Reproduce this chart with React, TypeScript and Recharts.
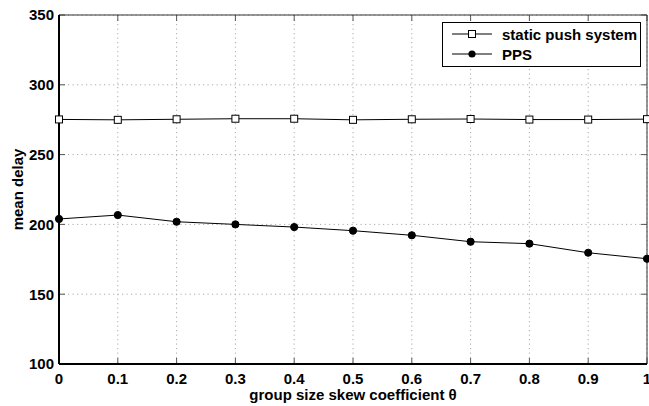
import {
  LineChart,
  Line,
  XAxis,
  YAxis,
  CartesianGrid,
  ReferenceArea,
} from 'recharts';

const theta = [0, 0.1, 0.2, 0.3, 0.4, 0.5, 0.6, 0.7, 0.8, 0.9, 1];
const staticPush = [275.2, 274.9, 275.3, 275.7, 275.7, 274.9, 275.3, 275.5, 275.1, 275.1, 275.4];
const pps = [203.9, 206.7, 201.9, 200.0, 198.1, 195.5, 192.2, 187.6, 186.2, 179.7, 175.4];

const xTicks = [0, 0.1, 0.2, 0.3, 0.4, 0.5, 0.6, 0.7, 0.8, 0.9, 1];
const yTicks = [100, 150, 200, 250, 300, 350];

const data = theta.map((t, i) => ({ theta: t, staticPush: staticPush[i], pps: pps[i] }));

const FONT = 'Liberation Sans, Arial, Helvetica, sans-serif';
const tickStyle = { fontFamily: FONT, fontSize: 15, fontWeight: 700, fill: '#000' };

// dotted grid line with short solid tick marks at both ends (inward ticks)
function GridLine(props: any) {
  const { x1, y1, x2, y2 } = props;
  const vertical = x1 === x2;
  const len = 6;
  return (
    <g key={props.key ?? `${x1}-${y1}`}>
      <line x1={x1} y1={y1} x2={x2} y2={y2} stroke="#aaa" strokeDasharray="1.2 3.3" />
      {vertical ? (
        <>
          <line x1={x1} y1={y1} x2={x1} y2={y1 + len} stroke="#555" />
          <line x1={x2} y1={y2} x2={x2} y2={y2 - len} stroke="#555" />
        </>
      ) : (
        <>
          <line x1={x1} y1={y1} x2={x1 + len} y2={y1} stroke="#555" />
          <line x1={x2} y1={y2} x2={x2 - len} y2={y2} stroke="#555" />
        </>
      )}
    </g>
  );
}

function SquareDot(props: any) {
  const { cx, cy, index } = props;
  return <rect key={`sq-${index}`} x={cx - 3.5} y={cy - 3.5} width={7} height={7} fill="#fff" stroke="#000" strokeWidth={1} />;
}

function CircleDot(props: any) {
  const { cx, cy, index } = props;
  return <circle key={`ci-${index}`} cx={cx} cy={cy} r={3.6} fill="#000" stroke="#000" />;
}

// legend is drawn as an overlay so it doesn't take space from the plot
function LegendBox() {
  const rows = [
    { name: 'static push system', marker: 'square' },
    { name: 'PPS', marker: 'circle' },
  ];
  return (
    <div
      style={{
        position: 'absolute',
        left: 442,
        top: 22,
        width: 197,
        height: 41,
        border: '1.5px solid #000',
        background: '#fff',
        fontFamily: FONT,
        fontSize: 15,
        fontWeight: 700,
        padding: '1px 0',
      }}
    >
      {rows.map(r => (
        <div key={r.name} style={{ display: 'flex', alignItems: 'center', height: 20 }}>
          <svg width={52} height={20} style={{ marginLeft: 7 }}>
            <line x1={2} y1={10} x2={42} y2={10} stroke="#000" />
            {r.marker === 'square' ? (
              <rect x={18.5} y={6.5} width={7} height={7} fill="#fff" stroke="#000" />
            ) : (
              <circle cx={22} cy={10} r={3.6} fill="#000" />
            )}
          </svg>
          <span>{r.name}</span>
        </div>
      ))}
    </div>
  );
}

export default function App() {
  return (
    <div style={{ position: 'absolute', left: 0, top: 0, width: 649, height: 406, background: '#fff' }}>
      <LineChart width={649} height={406} data={data} margin={{ top: 15, right: 2, bottom: 0, left: 0 }}>
        <CartesianGrid horizontal={GridLine} vertical={GridLine} />
        <XAxis
          dataKey="theta"
          type="number"
          domain={[0, 1]}
          ticks={xTicks}
          tickFormatter={(v: number) => String(v)}
          interval={0}
          height={42}
          tickLine={false}
          tickSize={0}
          tickMargin={9}
          axisLine={{ stroke: '#000', strokeWidth: 2 }}
          tick={tickStyle}
          label={{
            value: 'group size skew coefficient θ',
            position: 'insideBottom',
            offset: 6,
            style: tickStyle,
          }}
        />
        <YAxis
          type="number"
          domain={[100, 350]}
          ticks={yTicks}
          interval={0}
          width={59}
          tickLine={false}
          tickSize={0}
          tickMargin={5}
          axisLine={{ stroke: '#000', strokeWidth: 2 }}
          tick={tickStyle}
          label={{
            value: 'mean delay',
            angle: -90,
            position: 'insideLeft',
            offset: 18,
            style: { ...tickStyle, textAnchor: 'middle' },
          }}
        />
        <ReferenceArea x1={0} x2={1} y1={100} y2={350} fill="none" fillOpacity={0} stroke="#333" strokeWidth={1} />
        <Line
          type="linear"
          dataKey="staticPush"
          name="static push system"
          stroke="#000"
          strokeWidth={1}
          dot={SquareDot}
          isAnimationActive={false}
        />
        <Line
          type="linear"
          dataKey="pps"
          name="PPS"
          stroke="#000"
          strokeWidth={1}
          dot={CircleDot}
          isAnimationActive={false}
        />
      </LineChart>
      <LegendBox />
    </div>
  );
}
